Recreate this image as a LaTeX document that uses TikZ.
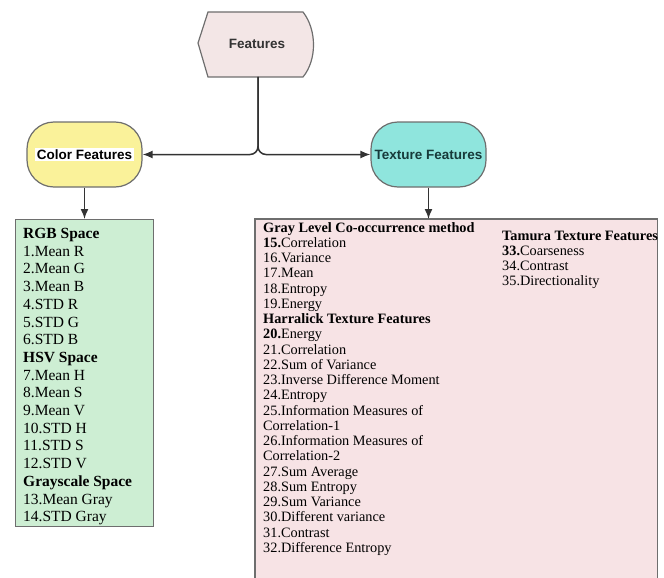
\documentclass[tikz,border=0pt]{standalone}
\usepackage{fontspec}
\setmainfont{Liberation Serif}
\newfontfamily\headfont{Liberation Sans}
\usetikzlibrary{arrows.meta}
\definecolor{edgegray}{HTML}{6E6E6E}
\definecolor{featpink}{HTML}{F3E6E6}
\definecolor{colyellow}{HTML}{FAF29A}
\definecolor{texcyan}{HTML}{8FE5DD}
\definecolor{textdark}{HTML}{173A3A}
\definecolor{colgreen}{HTML}{CDEED3}
\definecolor{texpink}{HTML}{F7E3E5}
\setlength{\fboxsep}{2pt}

\begin{document}
\begin{tikzpicture}[x=1pt,y=-1pt,>={Latex[length=10pt,width=8pt]},
  head/.style={font=\headfont\fontsize{13.5}{16}\selectfont\bfseries},
  pill/.style={draw=edgegray,line width=1.2pt,rounded corners=27pt,minimum width=115pt,minimum height=65pt,inner sep=0pt},
  box/.style={draw=edgegray,line width=1.4pt},
  link/.style={->,line width=1.5pt,black!80},
  item/.style={anchor=base west,inner sep=0pt}]
  \useasboundingbox (0,0) rectangle (664,578);
  \clip (0,0) rectangle (664,578);
  % top node
  \draw[fill=featpink,draw=edgegray,line width=1.2pt] (198,43) -- (208,12) -- (303,12)
    .. controls (317,30) and (317,60) .. (303,77) -- (208,77) -- cycle;
  \node[head,text=black!80] (feat) at (257,44) {Features};
  \coordinate (featbot) at (258,77);
  % the two groups
  \node[pill,fill=colyellow,head] (colf) at (84.5,154.5) {\colorbox{white}{Color Features}};
  \node[pill,fill=texcyan,head,text=textdark] (texf) at (428.5,154.5) {Texture Features};
  \draw[link,rounded corners=8pt] (featbot) |- (colf.east);
  \draw[link,rounded corners=8pt] (featbot) |- (texf.west);
  % lists
  \node[box,fill=colgreen,minimum width=138pt,minimum height=307pt,anchor=north west,inner sep=0pt] (colbox) at (15,219) {};
  \node[fill=texpink,minimum width=402pt,minimum height=372pt,anchor=north west,inner sep=0pt] (texbox) at (255,219) {};
  \draw[box] (texbox.south west) -- (texbox.north west) -- (texbox.north east) -- (texbox.south east);
  \draw[link] (colf.south) -- (colf.south |- colbox.north);
  \draw[link] (texf.south) -- (texf.south |- texbox.north);
  \begin{scope}[font=\fontsize{15.5}{17}\selectfont]
    \foreach \t [count=\i from 0] in {{\textbf{RGB Space}},1.Mean R,2.Mean G,3.Mean B,4.STD R,5.STD G,6.STD B,
      {\textbf{HSV Space}},7.Mean H,8.Mean S,9.Mean V,10.STD H,11.STD S,12.STD V,
      {\textbf{Grayscale Space}},13.Mean Gray,14.STD Gray}
      \node[item] (c\i) at (23,238.5+17.7*\i) {\t};
  \end{scope}
  \begin{scope}[font=\fontsize{14.3}{15}\selectfont]
    \foreach \t [count=\i from 0] in {{\textbf{Gray Level Co-occurrence method}},{\textbf{15.}Correlation},16.Variance,17.Mean,18.Entropy,19.Energy,
      {\textbf{Harralick Texture Features}},{\textbf{20.}Energy},21.Correlation,22.Sum of Variance,23.Inverse Difference Moment,
      24.Entropy,25.Information Measures of,Correlation-1,26.Information Measures of,Correlation-2,
      27.Sum Average,28.Sum Entropy,29.Sum Variance,30.Different variance,31.Contrast,32.Difference Entropy}
      \node[item] (g\i) at (263,232+15.25*\i) {\t};
    \foreach \t [count=\i from 0] in {{\textbf{Tamura Texture Features}},{\textbf{33.}Coarseness},34.Contrast,35.Directionality}
      \node[item] (t\i) at (502,240+15.3*\i) {\t};
  \end{scope}
\end{tikzpicture}
\end{document}
